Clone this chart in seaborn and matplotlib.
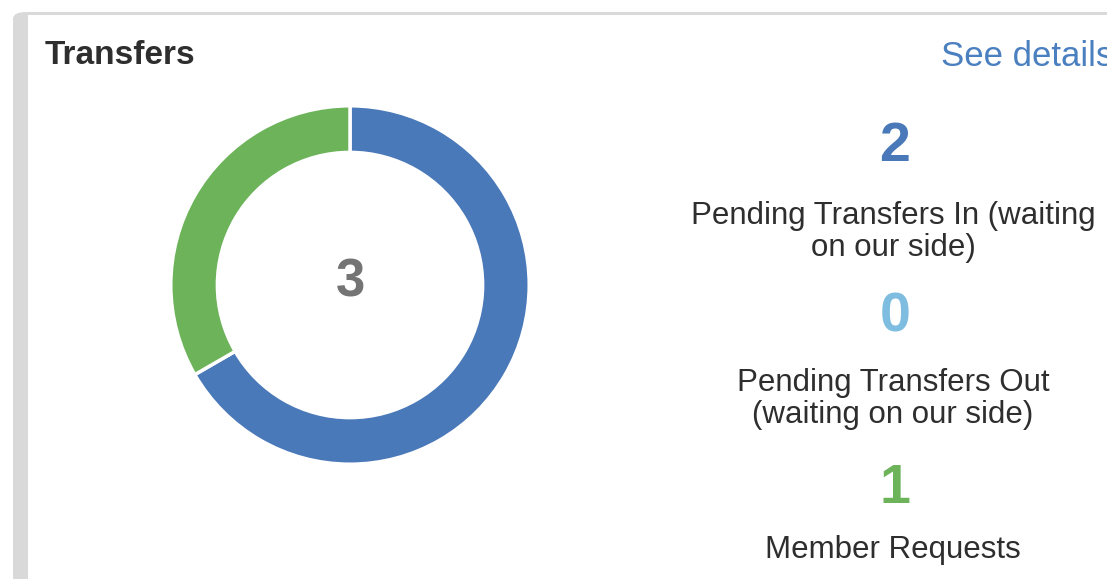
import numpy as np
import pandas as pd
import matplotlib
matplotlib.use('Agg')
import matplotlib.pyplot as plt
import seaborn as sns
from matplotlib.patches import FancyBboxPatch, Rectangle

# Data
labels = ['Pending Transfers In (waiting\non our side)',
          'Pending Transfers Out\n(waiting on our side)',
          'Member Requests']
counts = [2, 0, 1]
colors = ['#4a79b9', '#7fbde0', '#6cb35a']
title = 'Transfers'
link_text = 'See details'

df = pd.DataFrame({'label': labels, 'count': counts, 'color': colors})
total = df['count'].sum()

sns.set_theme(style='white')
plt.rcParams['font.family'] = ['Liberation Sans', 'DejaVu Sans']

W, H = 1107, 579
fig = plt.figure(figsize=(W / 100, H / 100), dpi=100)
fig.patch.set_facecolor('white')


def fx(px):
    return px / W


def fy(py):
    return 1 - py / H


# Card frame: thick gray left edge, thin gray top edge
frame = FancyBboxPatch((fx(13), fy(H + 20)), fx(W + 40), (H + 8) / H,
                       boxstyle='round,pad=0,rounding_size=0.012',
                       transform=fig.transFigure, facecolor='#d9d9d9',
                       edgecolor='none', zorder=0)
fig.patches.append(frame)
fig.patches.append(Rectangle((fx(28), fy(H + 20)), fx(W), (H + 5) / H,
                             transform=fig.transFigure, facecolor='white',
                             edgecolor='none', zorder=1))

# Donut
cx, cy, r = 350, 285, 181
ax = fig.add_axes([fx(cx - r), fy(cy + r), 2 * r / W, 2 * r / H])
ax.set_zorder(5)
ax.patch.set_alpha(0)
nz = df[df['count'] > 0]
ax.pie(nz['count'], colors=nz['color'], startangle=90, counterclock=False,
       wedgeprops=dict(width=0.26, edgecolor='white', linewidth=2.5))
ax.set_xlim(-1.01, 1.01)
ax.set_ylim(-1.01, 1.01)
ax.set_aspect('equal')
ax.axis('off')
ax.text(0, 0.015, str(total), ha='center', va='center', fontsize=38,
        fontweight='bold', color='#747474')

# Header
fig.text(fx(45), fy(55), title, ha='left', va='center', fontsize=24,
         fontweight='bold', color='#2e2e2e', zorder=6)
# the link runs off the card's right edge, as in the original screenshot
fig.text(fx(941), fy(56), link_text, ha='left', va='center', fontsize=25,
         color='#4a7fc0', zorder=6)

# Right side stats
num_y = [147, 317, 489]
lab_y = [232, 399, 550]
for (_, row), ny, ly in zip(df.iterrows(), num_y, lab_y):
    fig.text(fx(895), fy(ny), str(row['count']), ha='center', va='center',
             fontsize=40, fontweight='bold', color=row['color'], zorder=6)
    fig.text(fx(893), fy(ly), row['label'], ha='center', va='center',
             fontsize=22.5, color='#2e2e2e', linespacing=1.12, zorder=6)

fig.savefig('out.png', dpi=100)
